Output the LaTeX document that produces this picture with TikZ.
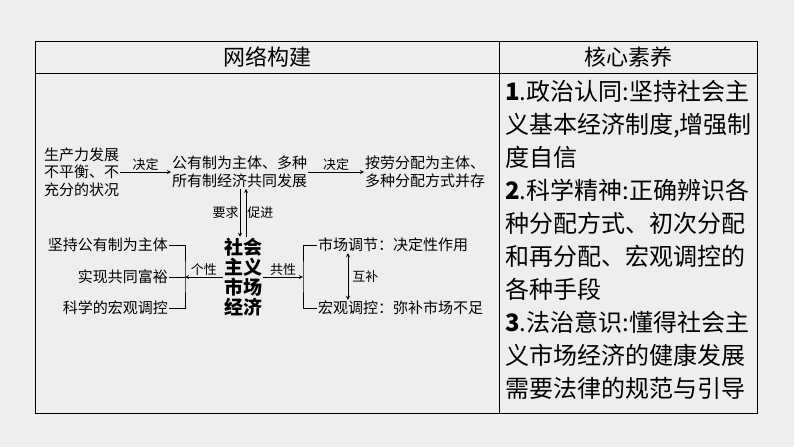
\documentclass[tikz,border=0pt]{standalone}
\usepackage{fontspec}
\setmainfont{Noto Sans CJK SC}
\usetikzlibrary{positioning}
\definecolor{paperColor}{RGB}{238,238,238}
\tikzset{
  lineStyle/.style = {line width=0.8pt},
  arrowLine/.style = {lineStyle, ->, >=stealth},
  smallText/.style = {font=\fontsize{15}{17.5}\selectfont, inner sep=1pt},
  tagText/.style = {font=\fontsize{13}{15}\selectfont, inner sep=1pt},
  coreText/.style = {font=\fontsize{24}{33}\selectfont, inner sep=0pt, align=left, anchor=north west},
  headText/.style = {font=\fontsize{22}{24}\selectfont}
}
\begin{document}
\begin{tikzpicture}[x=1pt, y=-1pt]
  \fill [paperColor] (0,0) rectangle (794,447);
  \useasboundingbox (0,0) rectangle (794,447);
  % table
  \draw [lineStyle] (35,41) rectangle (757,413);
  \draw [lineStyle] (35,73) -- (757,73);
  \draw [lineStyle] (499,41) -- (499,413);
  \node [headText] (headLeft) at (267,57) {网络构建};
  \node [headText] (headRight) at (628,57) {核心素养};

  % top row
  \node [smallText, align=left, anchor=west] (unbalanced) at (43,172) {生产力发展\\不平衡、不\\充分的状况};
  \node [smallText, align=left, anchor=west] (ownership) at (171,172) {公有制为主体、多种\\所有制经济共同发展};
  \node [smallText, align=left, anchor=west] (distribution) at (364,172) {按劳分配为主体、\\多种分配方式并存};
  \draw [arrowLine] (unbalanced.east) -- node [tagText, above] {决定} (ownership.west);
  \draw [arrowLine] (ownership.east) -- node [tagText, above] {决定} (distribution.west);

  % centre
  \node [font=\bfseries\fontsize{19}{20}\selectfont, align=center, inner sep=1pt] (market) at (243,277) {社会\\主义\\市场\\经济};
  \draw [arrowLine] ([xshift=-3pt]ownership.south -| market.north) -- node [tagText, left] {要求} ([xshift=-3pt]market.north);
  \draw [arrowLine] ([xshift=3pt]market.north) -- node [tagText, right] {促进} ([xshift=3pt]ownership.south -| market.north);

  % left side
  \node [smallText, anchor=east] (publicMain) at (169,245) {坚持公有制为主体};
  \node [smallText, anchor=east] (prosperity) at (169,277) {实现共同富裕};
  \node [smallText, anchor=east] (macroSci) at (169,308) {科学的宏观调控};
  \coordinate (leftBrace) at (185,277);
  \draw [lineStyle] (publicMain.east) -| (leftBrace) |- (macroSci.east);
  \draw [lineStyle] (prosperity.east) -- (leftBrace);
  \draw [arrowLine] (market.west) -- node [tagText, above] {个性} (leftBrace);

  % right side
  \node [smallText, anchor=west] (marketReg) at (317,245) {市场调节：决定性作用};
  \node [smallText, anchor=west] (macroReg) at (317,308) {宏观调控：弥补市场不足};
  \coordinate (rightBrace) at (303,277);
  \draw [lineStyle] (marketReg.west) -| (rightBrace) |- (macroReg.west);
  \draw [arrowLine] (market.east) -- node [tagText, above] {共性} (rightBrace);
  \draw [lineStyle, <->, >=stealth] ([xshift=31pt]marketReg.south west) -- node [tagText, right=3pt] {互补} ([xshift=31pt]macroReg.north west);

  % core literacy
  \node [coreText] (coreList) at (505,80) {\textbf{1}.政治认同:坚持社会主\\义基本经济制度,增强制\\度自信\\\textbf{2}.科学精神:正确辨识各\\种分配方式、初次分配\\和再分配、宏观调控的\\各种手段\\\textbf{3}.法治意识:懂得社会主\\义市场经济的健康发展\\需要法律的规范与引导};
\end{tikzpicture}
\end{document}
